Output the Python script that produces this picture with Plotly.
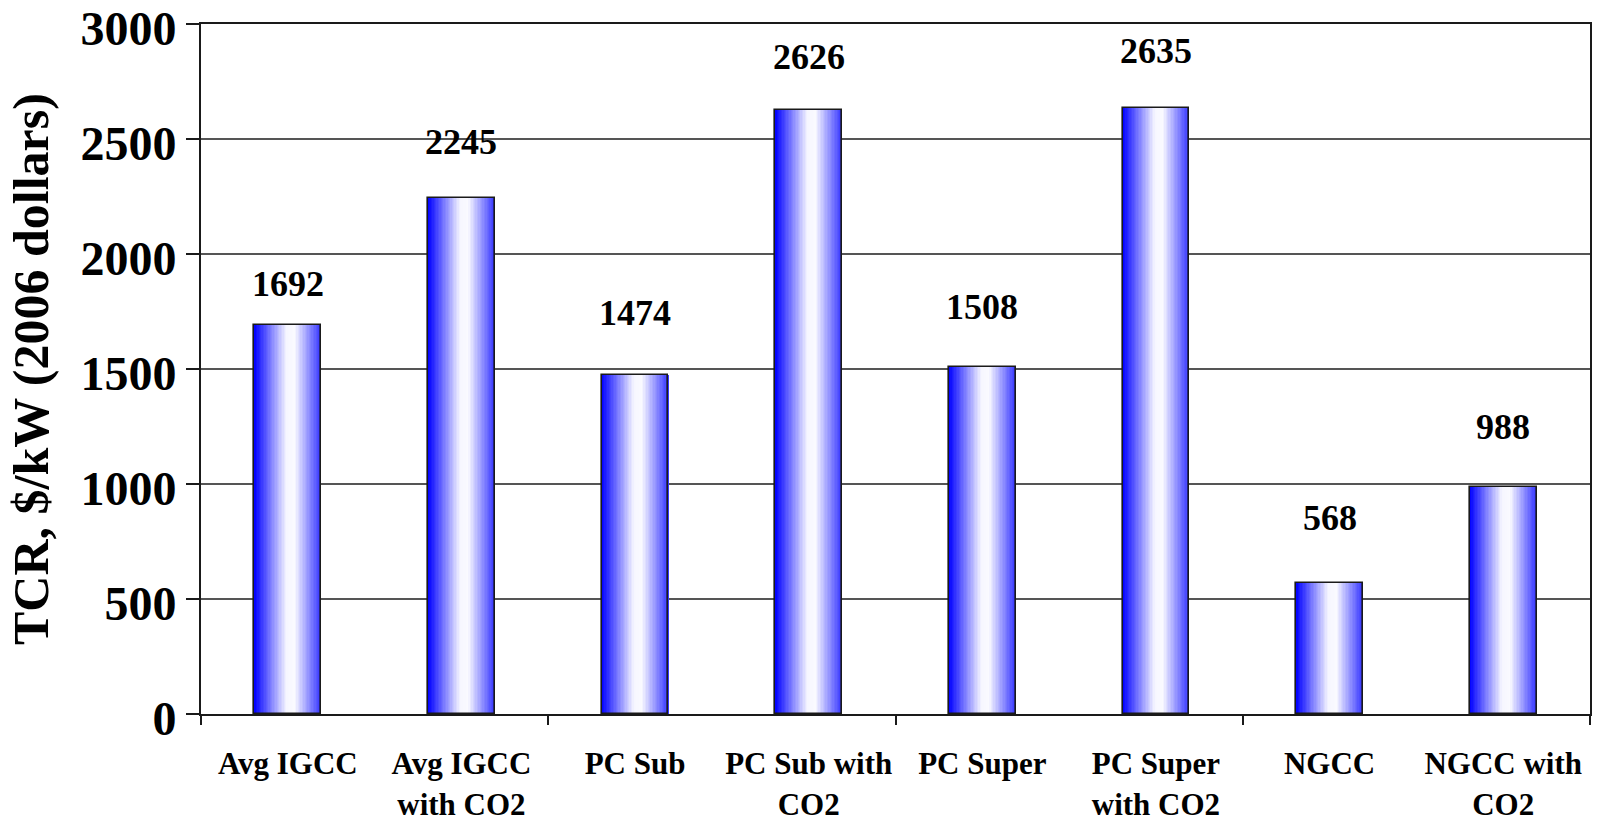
import plotly.graph_objects as go

# Total capital requirement by plant type
categories = ["Avg IGCC", "Avg IGCC<br>with CO2", "PC Sub", "PC Sub with<br>CO2",
              "PC Super", "PC Super<br>with CO2", "NGCC", "NGCC with<br>CO2"]
tcr_values = [1692, 2245, 1474, 2626, 1508, 2635, 568, 988]
y_ticks = [0, 500, 1000, 1500, 2000, 2500, 3000]

# styling
SERIF = "Liberation Serif"
BAR_W = 0.385
N_SLICES = 48
label_lift = [41, 56, 62, 53, 60, 57, 65, 60]  # px above bar top for the value labels

stops = [(0.0, (0, 0, 255)), (0.48, (246, 246, 255)), (0.6, (250, 250, 255)), (1.0, (50, 50, 255))]


def grad(t):
    for (t0, c0), (t1, c1) in zip(stops[:-1], stops[1:]):
        if t <= t1:
            f = (t - t0) / (t1 - t0) if t1 > t0 else 0
            return "rgb(%d,%d,%d)" % tuple(round(a + (b - a) * f) for a, b in zip(c0, c1))
    return "rgb(%d,%d,%d)" % stops[-1][1]


xpos = list(range(len(categories)))
fig = go.Figure()

# horizontal gradient: each slice runs from its start to the bar's right edge,
# later slices painted over earlier ones so no seams appear
for i in range(N_SLICES):
    start = -BAR_W / 2 + i * BAR_W / N_SLICES
    fig.add_trace(go.Bar(
        x=xpos, y=tcr_values, width=BAR_W / 2 - start, offset=start,
        marker=dict(color=grad((i + 0.5) / N_SLICES), line=dict(width=0)),
        hoverinfo="skip", showlegend=False))

# outline
fig.add_trace(go.Bar(
    x=xpos, y=tcr_values, width=BAR_W, offset=-BAR_W / 2,
    marker=dict(color="rgba(0,0,0,0)", line=dict(color="#1a1a1a", width=1.6)),
    showlegend=False))

# tick marks between category pairs
fig.add_trace(go.Scatter(x=[-0.5, 7.5], y=[None, None], xaxis="x2", showlegend=False,
                         hoverinfo="skip"))

for x, v, lift in zip(xpos, tcr_values, label_lift):
    fig.add_annotation(x=x, y=v, text=str(v), showarrow=False, yanchor="middle",
                       yshift=lift, font=dict(family=SERIF, size=36, color="black", weight="bold"))

fig.add_annotation(xref="paper", yref="paper", x=(31 - 201) / 1389, y=0.5,
                   text="TCR, $/kW (2006 dollars)", textangle=-90, showarrow=False,
                   xanchor="center", yanchor="middle",
                   font=dict(family=SERIF, size=50, color="black", weight="bold"))

fig.update_layout(
    width=1604, height=820,
    margin=dict(l=201, r=14, t=24, b=106, autoexpand=False),
    paper_bgcolor="white", plot_bgcolor="white",
    barmode="overlay", bargap=0,
    xaxis=dict(range=[-0.5, 7.5], tickvals=xpos, ticktext=categories, ticks="",
               showgrid=False, zeroline=False, showline=True, linecolor="#1a1a1a",
               linewidth=2, mirror=True, ticklabelstandoff=21, automargin=False,
               tickfont=dict(family=SERIF, size=31, color="black", weight="bold")),
    xaxis2=dict(range=[-0.5, 7.5], overlaying="x", anchor="y", side="bottom",
                tickvals=[-0.5, 1.5, 3.5, 5.5, 7.5], ticks="outside", ticklen=10,
                tickwidth=2, tickcolor="#1a1a1a", showticklabels=False, automargin=False,
                showgrid=False, zeroline=False, showline=False),
    yaxis=dict(range=[0, 3000], tickvals=y_ticks, ticks="outside", ticklen=13,
               tickwidth=2, tickcolor="#1a1a1a", showgrid=True, gridcolor="#555555",
               gridwidth=1.5, zeroline=False, showline=True, linecolor="#1a1a1a",
               linewidth=2, mirror=True, ticklabelstandoff=0, ticklabelshift=4,
               ticklabeloverflow="allow", automargin=False,
               tickfont=dict(family=SERIF, size=48, color="black", weight="bold")),
)

fig.write_html("out.html")
